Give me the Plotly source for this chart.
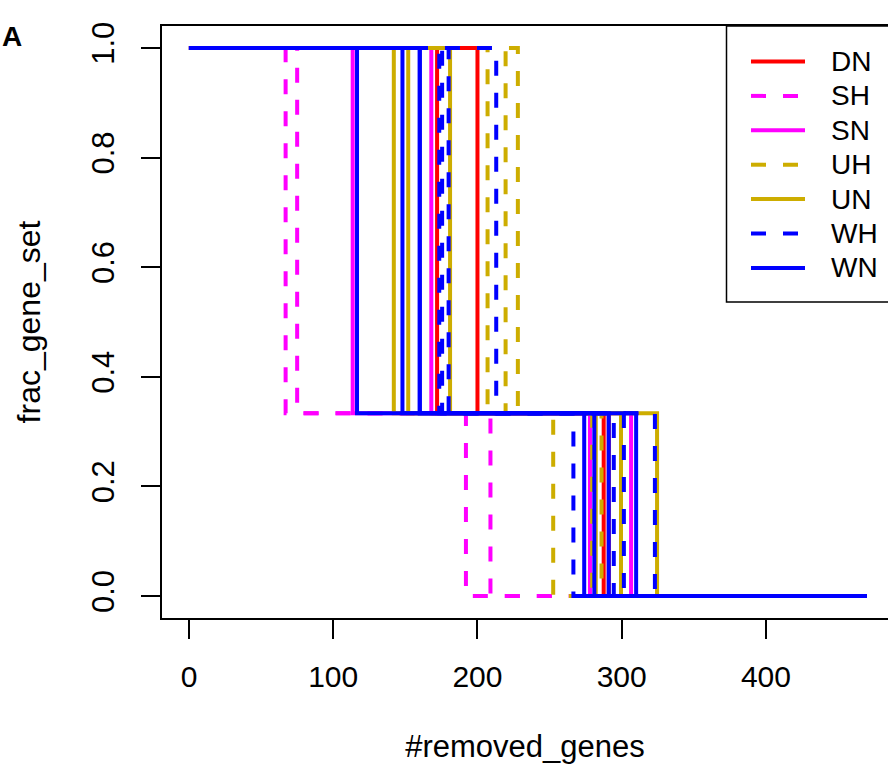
import plotly.graph_objects as go

# Group labels, colours and line styles (legend order = drawing order)
groups = ["DN", "SH", "SN", "UH", "UN", "WH", "WN"]
colors = ["#FF0000", "#FF00FF", "#FF00FF", "#CDAD00", "#CDAD00", "#0000FF", "#0000FF"]
dashes = ["solid", "15px,17px", "solid", "15px,17px", "solid", "15px,17px", "solid"]

# Number of removed genes at which each replicate drops 1.0 -> 1/3 (drop1)
# and 1/3 -> 0.0 (drop2)
dn_drop1 = [172, 200]
dn_drop2 = [287.5, 291]
sh_drop1 = [67, 75]
sh_drop2 = [192, 209]
sn_drop1 = [113.5, 168]
sn_drop2 = [278, 306.5]
uh_drop1 = [207, 219.5, 228]
uh_drop2 = [252.5, 279.5, 286]
un_drop1 = [142, 181, 152]
un_drop2 = [299.5, 282, 324.5]
wh_drop1 = [173.5, 175.5, 180, 213]
wh_drop2 = [266.5, 294.5, 301.5, 323]
wn_drop1 = [116.5, 148, 160, 160]
wn_drop2 = [274, 281, 291, 310]

frac_levels = [1.0, 1 / 3, 0.0]
n_genes_total = 470

x_ticks = [0, 100, 200, 300, 400]
y_ticks = [0.0, 0.2, 0.4, 0.6, 0.8, 1.0]
y_ticklabels = ["0.0", "0.2", "0.4", "0.6", "0.8", "1.0"]

drop1 = [dn_drop1, sh_drop1, sn_drop1, uh_drop1, un_drop1, wh_drop1, wn_drop1]
drop2 = [dn_drop2, sh_drop2, sn_drop2, uh_drop2, un_drop2, wh_drop2, wn_drop2]

FONT = "Liberation Sans, Arial, Helvetica, sans-serif"
W, H = 888, 771
M_L, M_R, M_T, M_B = 162, 0, 26, 153
PW, PH = W - M_L - M_R, H - M_T - M_B


def px_x(p):
    return (p - M_L) / PW


def px_y(p):
    return 1 - (p - M_T) / PH


fig = go.Figure()

for g, col, dsh, d1s, d2s in zip(groups, colors, dashes, drop1, drop2):
    for d1, d2 in zip(d1s, d2s):
        fig.add_trace(go.Scatter(
            x=[0, d1, d2, n_genes_total],
            y=[frac_levels[0], frac_levels[1], frac_levels[2], frac_levels[2]],
            mode="lines",
            line=dict(color=col, width=4, dash=dsh, shape="hv"),
            name=g,
            showlegend=False,
            hoverinfo="skip",
        ))

# Legend box in the top-right corner of the plotting region
shapes = [dict(type="rect", xref="paper", yref="paper",
               x0=px_x(726.5), x1=1.05, y0=px_y(302), y1=1.0,
               line=dict(color="black", width=1.5), fillcolor="white", layer="above")]
annotations = []
row0, row_step = 61.5, 34.4
for i, (g, col, dsh) in enumerate(zip(groups, colors, dashes)):
    yy = px_y(row0 + i * row_step)
    shapes.append(dict(type="line", xref="paper", yref="paper",
                       x0=px_x(751), x1=px_x(805), y0=yy, y1=yy,
                       line=dict(color=col, width=4, dash=dsh), layer="above"))
    annotations.append(dict(text=g, xref="paper", yref="paper", x=px_x(829), y=yy,
                            xanchor="left", yanchor="middle", showarrow=False,
                            font=dict(family=FONT, size=28, color="black")))

# Panel letter at the top-left edge
annotations.append(dict(text="<b>A</b>", xref="paper", yref="paper", x=px_x(0), y=px_y(36),
                        xanchor="left", yanchor="middle", showarrow=False,
                        font=dict(family=FONT, size=28, color="black")))

fig.update_layout(
    width=W, height=H, autosize=False,
    margin=dict(l=M_L, r=M_R, t=M_T, b=M_B, pad=0),
    paper_bgcolor="white", plot_bgcolor="white",
    font=dict(family=FONT, color="black"),
    shapes=shapes, annotations=annotations,
    showlegend=False,
    xaxis=dict(
        range=[-18.7, 484.6], tickvals=x_ticks, ticktext=[str(v) for v in x_ticks],
        showgrid=False, zeroline=False, showline=True, linecolor="black", linewidth=1.5,
        mirror=True, ticks="outside", ticklen=19, tickwidth=1.5, tickcolor="black",
        tickfont=dict(family=FONT, size=30), ticklabelstandoff=12,
        title=dict(text="#removed_genes", font=dict(family=FONT, size=31), standoff=44),
    ),
    yaxis=dict(
        range=[-0.04, 1.04], tickvals=y_ticks, ticktext=y_ticklabels,
        showgrid=False, zeroline=False, showline=True, linecolor="black", linewidth=1.5,
        ticks="outside", ticklen=19, tickwidth=1.5, tickcolor="black",
        tickangle=-90, tickfont=dict(family=FONT, size=31), ticklabelstandoff=15,
        title=dict(text="frac_gene_set", font=dict(family=FONT, size=32), standoff=36),
    ),
)

fig.write_html("out.html")
